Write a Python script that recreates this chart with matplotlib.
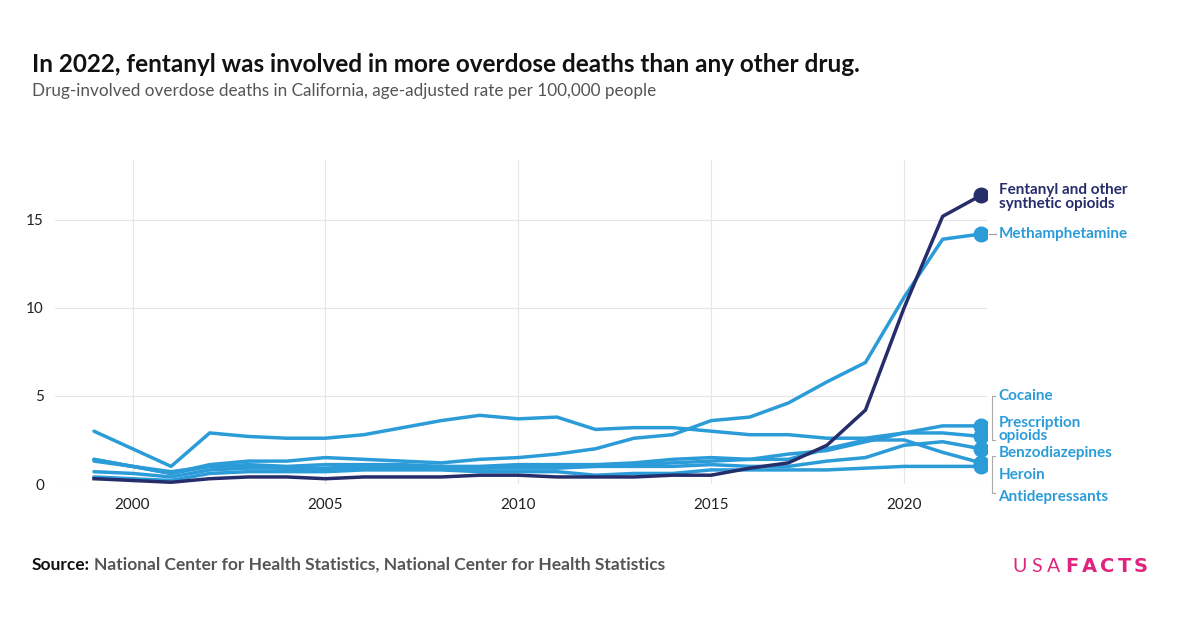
import matplotlib
matplotlib.use("Agg")
import matplotlib.pyplot as plt

plt.rcParams["font.family"] = ["Source Sans Pro", "Lato", "DejaVu Sans"]

years = list(range(1999, 2023))
fentanyl = [0.3, 0.2, 0.1, 0.3, 0.4, 0.4, 0.3, 0.4, 0.4, 0.4, 0.5, 0.5, 0.4, 0.4, 0.4, 0.5, 0.5, 0.9, 1.2, 2.2, 4.2, 10.0, 15.2, 16.4]
meth = [1.3, 1.0, 0.6, 1.1, 1.3, 1.3, 1.5, 1.4, 1.3, 1.2, 1.4, 1.5, 1.7, 2.0, 2.6, 2.8, 3.6, 3.8, 4.6, 5.8, 6.9, 10.6, 13.9, 14.2]
rx_opioids = [3.0, 2.0, 1.0, 2.9, 2.7, 2.6, 2.6, 2.8, 3.2, 3.6, 3.9, 3.7, 3.8, 3.1, 3.2, 3.2, 3.0, 2.8, 2.8, 2.6, 2.6, 2.9, 2.9, 2.7]
cocaine = [1.4, 1.0, 0.7, 1.0, 1.1, 1.0, 1.1, 1.1, 1.1, 1.0, 1.0, 1.1, 1.1, 1.1, 1.2, 1.4, 1.5, 1.4, 1.7, 1.9, 2.4, 2.9, 3.3, 3.3]
benzos = [0.7, 0.6, 0.4, 0.8, 0.9, 0.9, 0.9, 1.0, 1.0, 0.9, 0.9, 1.0, 1.0, 1.0, 1.0, 1.0, 1.1, 1.0, 1.0, 1.3, 1.5, 2.2, 2.4, 2.0]
heroin = [1.4, 1.0, 0.6, 1.0, 1.0, 0.9, 0.8, 0.9, 0.9, 1.0, 0.9, 0.9, 0.9, 1.0, 1.1, 1.2, 1.3, 1.4, 1.4, 2.0, 2.5, 2.5, 1.8, 1.2]
antidep = [0.4, 0.3, 0.2, 0.6, 0.7, 0.7, 0.7, 0.8, 0.8, 0.8, 0.7, 0.7, 0.7, 0.5, 0.6, 0.6, 0.8, 0.8, 0.8, 0.8, 0.9, 1.0, 1.0, 1.0]

DARK = "#262d6b"
BLUE = "#2c9cd9"

fig = plt.figure(figsize=(12, 6.28), dpi=100)
ax = fig.add_axes([55 / 1200, 1 - 484 / 628, 932 / 1200, 324 / 628])

for s in [antidep, heroin, benzos, cocaine, rx_opioids, meth]:
    ax.plot(years, s, color=BLUE, lw=2.5, solid_capstyle="round")
    ax.scatter([years[-1]], [s[-1]], color=BLUE, s=110, zorder=3)
ax.plot(years, fentanyl, color=DARK, lw=2.5, zorder=4)
ax.scatter([years[-1]], [fentanyl[-1]], color=DARK, s=110, zorder=5)

ax.set_xlim(1997.99, 2022.15)
ax.set_ylim(0, 18.4)
ax.set_xticks([2000, 2005, 2010, 2015, 2020])
ax.set_yticks([0, 5, 10, 15])
ax.grid(color="#e6e6e6", lw=0.8)
ax.set_axisbelow(True)
for sp in ax.spines.values():
    sp.set_visible(False)
ax.tick_params(length=0, labelsize=11, colors="#222222")
ax.tick_params(axis="y", pad=8)
ax.tick_params(axis="x", pad=10)

tx = 2022.45
ax.text(tx, fentanyl[-1] - 0.1, "Fentanyl and other\nsynthetic opioids", color=DARK,
        fontsize=11, fontweight="bold", va="center", linespacing=0.95, clip_on=False)
ax.text(tx, meth[-1], "Methamphetamine", color=BLUE, fontsize=11, fontweight="bold",
        va="center", clip_on=False)
ax.plot([2022.2, 2022.38], [meth[-1], meth[-1]], color="#999999", lw=0.8, clip_on=False)
labs = [("Cocaine", 5.0), ("Prescription\nopioids", 3.1), ("Benzodiazepines", 1.75),
        ("Heroin", 0.5), ("Antidepressants", -0.75)]
for t, y in labs:
    ax.text(tx, y, t, color=BLUE, fontsize=11, fontweight="bold", va="center",
            linespacing=0.95, clip_on=False)
# bracket lines
bx = 2022.28
ax.plot([bx + 0.08, bx, bx, bx + 0.08], [5.0, 5.0, 2.5, 2.5], color="#aaaaaa", lw=0.8, clip_on=False)
ax.plot([bx + 0.08, bx, bx, bx + 0.08], [1.6, 1.6, -0.5, -0.5], color="#aaaaaa", lw=0.8, clip_on=False)

fig.text(32 / 1200, 1 - 64 / 628, "In 2022, fentanyl was involved in more overdose deaths than any other drug.",
         fontsize=17.5, fontweight="bold", va="center", color="#111111")
fig.text(32 / 1200, 1 - 91 / 628, "Drug-involved overdose deaths in California, age-adjusted rate per 100,000 people",
         fontsize=12.3, va="center", color="#555555")
fig.text(32 / 1200, 1 - 565 / 628, "Source:", fontsize=12.5, fontweight="bold", va="center", color="#111111")
fig.text(94 / 1200, 1 - 565 / 628, "National Center for Health Statistics, National Center for Health Statistics",
         fontsize=12.5, fontweight="bold", va="center", color="#555555")
fig.text(1148 / 1200, 1 - 566 / 628, r"U S A $\mathbf{F\,A\,C\,T\,S}$", fontsize=14, color="#e0247e",
         va="center", ha="right")

fig.savefig("out.png", dpi=100)
